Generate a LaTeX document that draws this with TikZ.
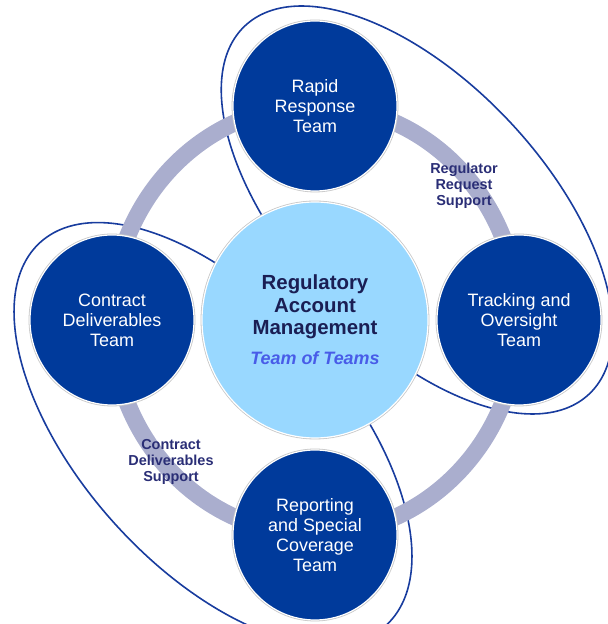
\documentclass[tikz,border=0pt]{standalone}
\usepackage{fontspec}
\setmainfont{Liberation Sans}
\usepackage{xcolor}
\definecolor{TeamBlue}{RGB}{0,58,155}
\definecolor{HubBlue}{RGB}{153,216,255}
\definecolor{RingGray}{RGB}{170,174,206}
\definecolor{LoopBlue}{RGB}{24,60,158}
\definecolor{HubInk}{RGB}{26,30,84}
\definecolor{TeamsInk}{RGB}{72,92,232}
\definecolor{LinkInk}{RGB}{42,46,118}
\usepackage{tikz}
\usetikzlibrary{
    shapes.geometric,
    backgrounds
}

\begin{document}
\begin{tikzpicture}[
    x=1bp, y=1bp,
%
    team/.style={
        ellipse,
        fill=TeamBlue,
        draw=white,
        line width=1.2pt,
        preaction={draw=black!22, line width=2.8pt},
        minimum width=164bp,
        minimum height=170bp,
        inner sep=0pt,
        align=center,
        text=white,
        font=\fontsize{18}{20}\selectfont
    },
%
    hub/.style={
        ellipse,
        fill=HubBlue,
        draw=white,
        line width=1.2pt,
        preaction={draw=black!22, line width=2.8pt},
        minimum width=226bp,
        minimum height=236bp,
        inner sep=0pt,
        align=center,
        text=HubInk,
        font=\fontsize{20.5}{22.5}\selectfont\bfseries
    },
%
    ring/.style={
        draw=RingGray,
        line width=17bp
    },
%
    loop/.style={
        draw=LoopBlue,
        line width=1.6bp
    },
%
    link/.style={
        text=LinkInk,
        align=center,
        font=\fontsize{14.5}{16}\selectfont\bfseries
    }
]
\useasboundingbox (0,0) rectangle (608,624);
%
% Centre of the team of teams
%
\node[hub] (hub) at (315,304) {
    Regulatory\\
    Account\\
    Management\\[8bp]
    {\fontsize{18}{22.5}\selectfont\itshape\color{TeamsInk}Team of Teams}
};
%
% The four teams round it
%
\node[team] (rapid) at (315,518) {
    Rapid\\
    Response\\
    Team
};
%
\node[team] (track) at (519,304) {
    Tracking and\\
    Oversight\\
    Team
};
%
\node[team] (contract) at (112,304) {
    Contract\\
    Deliverables\\
    Team
};
%
\node[team] (report) at (315,89) {
    Reporting\\
    and Special\\
    Coverage\\
    Team
};
%
% Support labels
%
\node[link] (reglink) at (464,438) {
    Regulator\\
    Request\\
    Support
};
%
\node[link] (conlink) at (171,162) {
    Contract\\
    Deliverables\\
    Support
};
%
% Ring and the two support loops behind the teams
%
\begin{scope}[on background layer]
\draw[loop, shift={(417,414)}, rotate=-47]
    (0,0) ellipse [x radius=252bp, y radius=128bp];
\draw[loop, shift={(213,190)}, rotate=-48]
    (0,0) ellipse [x radius=258bp, y radius=133bp];
\draw[ring] (hub.center) ellipse [x radius=203.5bp, y radius=214.5bp];
\end{scope}
%
\end{tikzpicture}
\end{document}
